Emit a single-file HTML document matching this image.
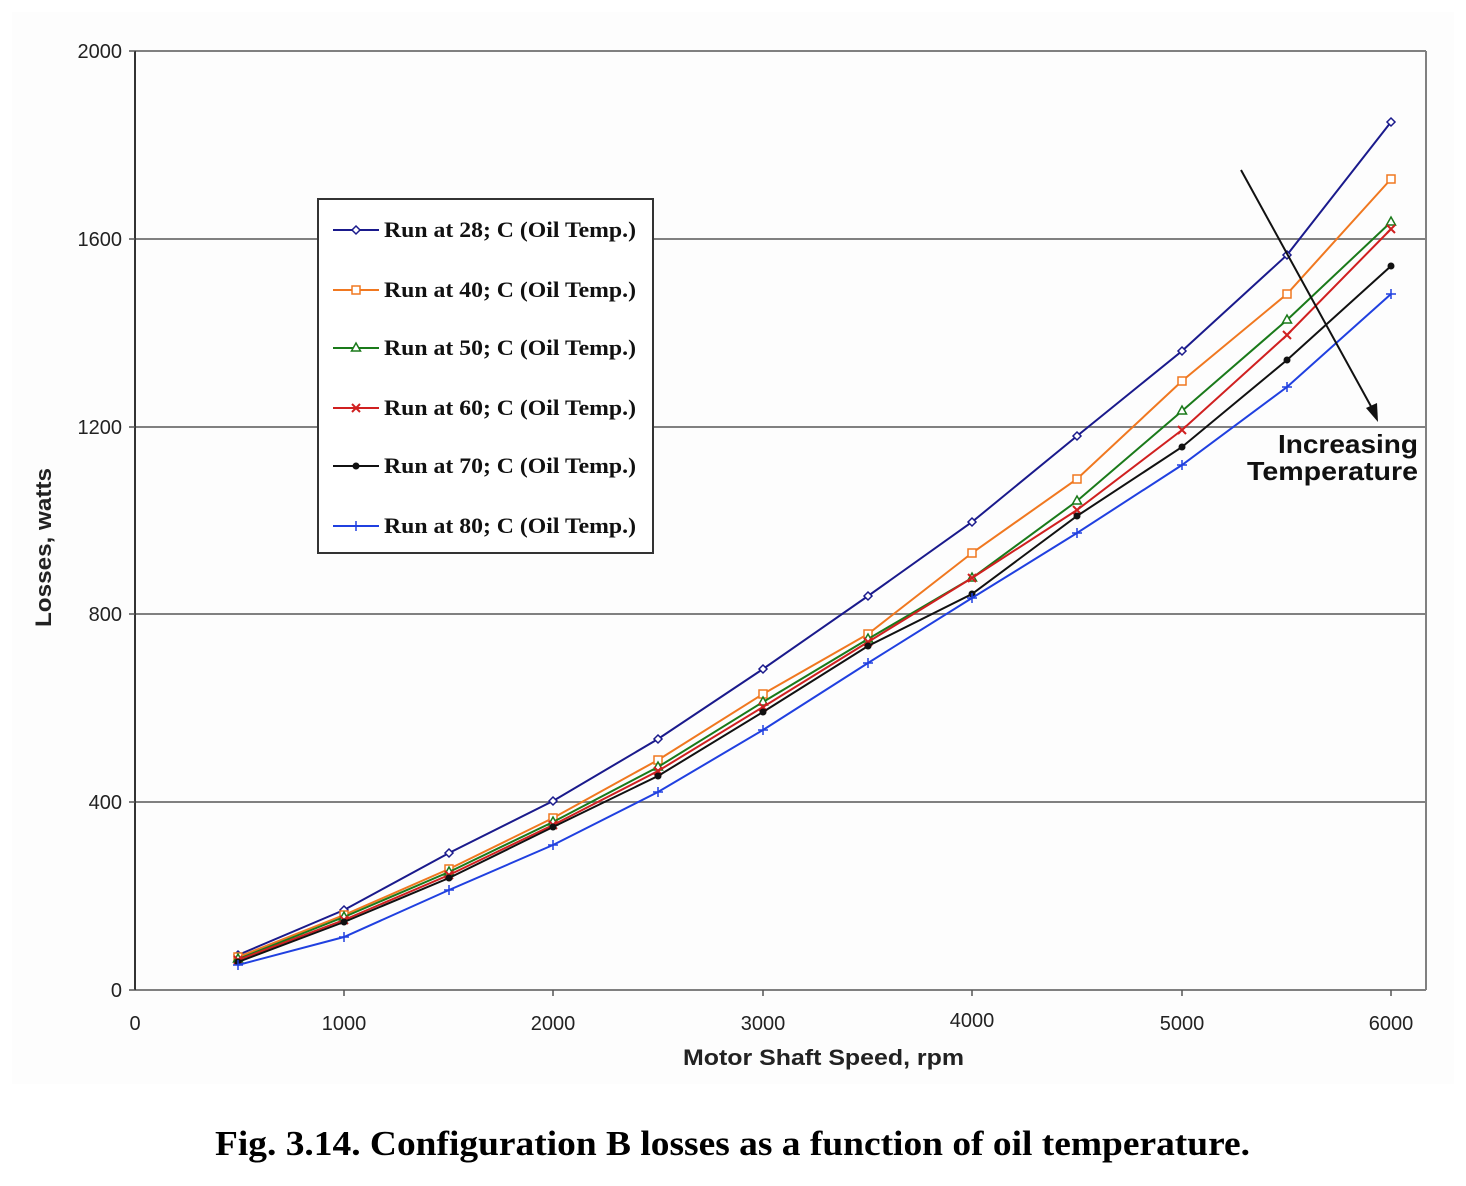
<!DOCTYPE html>
<html><head><meta charset="utf-8"><style>
body{margin:0;background:#fff;}
svg{display:block;}
</style></head><body>
<svg id="s" width="1466" height="1186" viewBox="0 0 1466 1186" xmlns="http://www.w3.org/2000/svg" font-family="Liberation Sans, sans-serif">
<rect x="0" y="0" width="1466" height="1186" fill="#fff"/>
<rect x="12" y="12" width="1442" height="1072" fill="#fdfdfd"/>
<g stroke="#808080" stroke-width="2">
<line x1="135" y1="51" x2="1426" y2="51"/>
<line x1="135" y1="239" x2="1426" y2="239"/>
<line x1="135" y1="427" x2="1426" y2="427"/>
<line x1="135" y1="614" x2="1426" y2="614"/>
<line x1="135" y1="802" x2="1426" y2="802"/>
<line x1="1426" y1="51" x2="1426" y2="990"/>
<line x1="135" y1="990" x2="1426" y2="990"/>
</g>
<line x1="135" y1="51" x2="135" y2="990" stroke="#333" stroke-width="2"/>
<g stroke="#555" stroke-width="1.5">
<line x1="129" y1="51" x2="135" y2="51"/><line x1="129" y1="239" x2="135" y2="239"/><line x1="129" y1="427" x2="135" y2="427"/><line x1="129" y1="614" x2="135" y2="614"/><line x1="129" y1="802" x2="135" y2="802"/><line x1="129" y1="990" x2="135" y2="990"/>
<line x1="344" y1="990" x2="344" y2="996"/><line x1="553" y1="990" x2="553" y2="996"/><line x1="763" y1="990" x2="763" y2="996"/><line x1="972" y1="990" x2="972" y2="996"/><line x1="1182" y1="990" x2="1182" y2="996"/><line x1="1391" y1="990" x2="1391" y2="996"/>
</g>
<g font-size="20" fill="#222" text-anchor="end">
<text x="122" y="58">2000</text><text x="122" y="246">1600</text><text x="122" y="434">1200</text><text x="122" y="621">800</text><text x="122" y="809">400</text><text x="122" y="997">0</text>
</g>
<g font-size="20" fill="#222" text-anchor="middle">
<text x="135" y="1030">0</text><text x="344" y="1030">1000</text><text x="553" y="1030">2000</text><text x="763" y="1030">3000</text><text x="972" y="1027">4000</text><text x="1182" y="1030">5000</text><text x="1391" y="1030">6000</text>
</g>
<text x="683" y="1065" font-size="22" font-weight="bold" fill="#222" textLength="281" lengthAdjust="spacingAndGlyphs">Motor Shaft Speed, rpm</text>
<text transform="translate(51,627) rotate(-90)" font-size="22" font-weight="bold" fill="#222" textLength="159" lengthAdjust="spacingAndGlyphs">Losses, watts</text>
<g id="series"></g>
<line x1="1241" y1="170" x2="1373" y2="410" stroke="#111" stroke-width="2"/>
<polygon points="1378,422 1366,408 1377,403" fill="#111"/>
<text x="1278" y="453" font-size="26" font-weight="bold" fill="#111" textLength="140" lengthAdjust="spacingAndGlyphs">Increasing</text>
<text x="1247" y="480" font-size="26" font-weight="bold" fill="#111" textLength="171" lengthAdjust="spacingAndGlyphs">Temperature</text>
<rect x="318" y="199" width="335" height="354" fill="#fff" stroke="#333" stroke-width="2"/>
<g id="leg"></g>
<g font-family="Liberation Serif, serif" font-weight="bold" font-size="22" fill="#111">
<text x="384" y="237" textLength="252" lengthAdjust="spacingAndGlyphs">Run at 28; C (Oil Temp.)</text>
<text x="384" y="297" textLength="252" lengthAdjust="spacingAndGlyphs">Run at 40; C (Oil Temp.)</text>
<text x="384" y="355" textLength="252" lengthAdjust="spacingAndGlyphs">Run at 50; C (Oil Temp.)</text>
<text x="384" y="415" textLength="252" lengthAdjust="spacingAndGlyphs">Run at 60; C (Oil Temp.)</text>
<text x="384" y="473" textLength="252" lengthAdjust="spacingAndGlyphs">Run at 70; C (Oil Temp.)</text>
<text x="384" y="533" textLength="252" lengthAdjust="spacingAndGlyphs">Run at 80; C (Oil Temp.)</text>
</g>
<text x="215" y="1155" font-family="Liberation Serif, serif" font-weight="bold" font-size="35" fill="#000" textLength="1035" lengthAdjust="spacingAndGlyphs">Fig. 3.14. Configuration B losses as a function of oil temperature.</text>
</svg>
<script>
var xs=[238,344,449,553,658,763,868,972,1077,1182,1287,1391];
var S=[
["#1a1a8c","d",[955,910,853,801,739,669,596,522,436,351,255,122]],
["#f07820","s",[957,915,869,818,760,694,634,553,479,381,294,179]],
["#1a7a1a","t",[959,917,872,822,767,702,639,578,501,411,320,222]],
["#d02020","x",[960,920,875,825,771,707,642,578,510,430,335,229]],
["#111111","c",[962,922,878,827,776,712,646,594,516,447,360,266]],
["#2040e0","p",[965,937,890,845,792,730,663,598,533,465,387,294]]];
var ns="http://www.w3.org/2000/svg";
function el(t,a,p){var e=document.createElementNS(ns,t);for(var k in a)e.setAttribute(k,a[k]);p.appendChild(e);return e;}
function mk(g,c,m,x,y){
 if(m=="d")el("polygon",{points:(x)+","+(y-4)+" "+(x+4)+","+y+" "+x+","+(y+4)+" "+(x-4)+","+y,fill:"#fff",stroke:c,"stroke-width":1.5},g);
 if(m=="s")el("rect",{x:x-4,y:y-4,width:8,height:8,fill:"#fff",stroke:c,"stroke-width":1.5},g);
 if(m=="t")el("polygon",{points:x+","+(y-5)+" "+(x+4.5)+","+(y+3)+" "+(x-4.5)+","+(y+3),fill:"#fff",stroke:c,"stroke-width":1.5},g);
 if(m=="x")el("path",{d:"M"+(x-4)+" "+(y-4)+"L"+(x+4)+" "+(y+4)+"M"+(x+4)+" "+(y-4)+"L"+(x-4)+" "+(y+4),stroke:c,"stroke-width":2},g);
 if(m=="c")el("circle",{cx:x,cy:y,r:3.5,fill:c},g);
 if(m=="p")el("path",{d:"M"+(x-5)+" "+y+"L"+(x+5)+" "+y+"M"+x+" "+(y-5)+"L"+x+" "+(y+5),stroke:c,"stroke-width":1.5},g);
}
var g=document.getElementById("series"),lg=document.getElementById("leg");
var ly=[230,290,348,408,466,526];
S.forEach(function(s,i){
 el("polyline",{points:xs.map(function(x,j){return x+","+s[2][j]}).join(" "),fill:"none",stroke:s[0],"stroke-width":2},g);
 xs.forEach(function(x,j){mk(g,s[0],s[1],x,s[2][j]);});
 el("line",{x1:333,y1:ly[i],x2:379,y2:ly[i],stroke:s[0],"stroke-width":2},lg);
 mk(lg,s[0],s[1],356,ly[i]);
});
</script>
</body></html>
